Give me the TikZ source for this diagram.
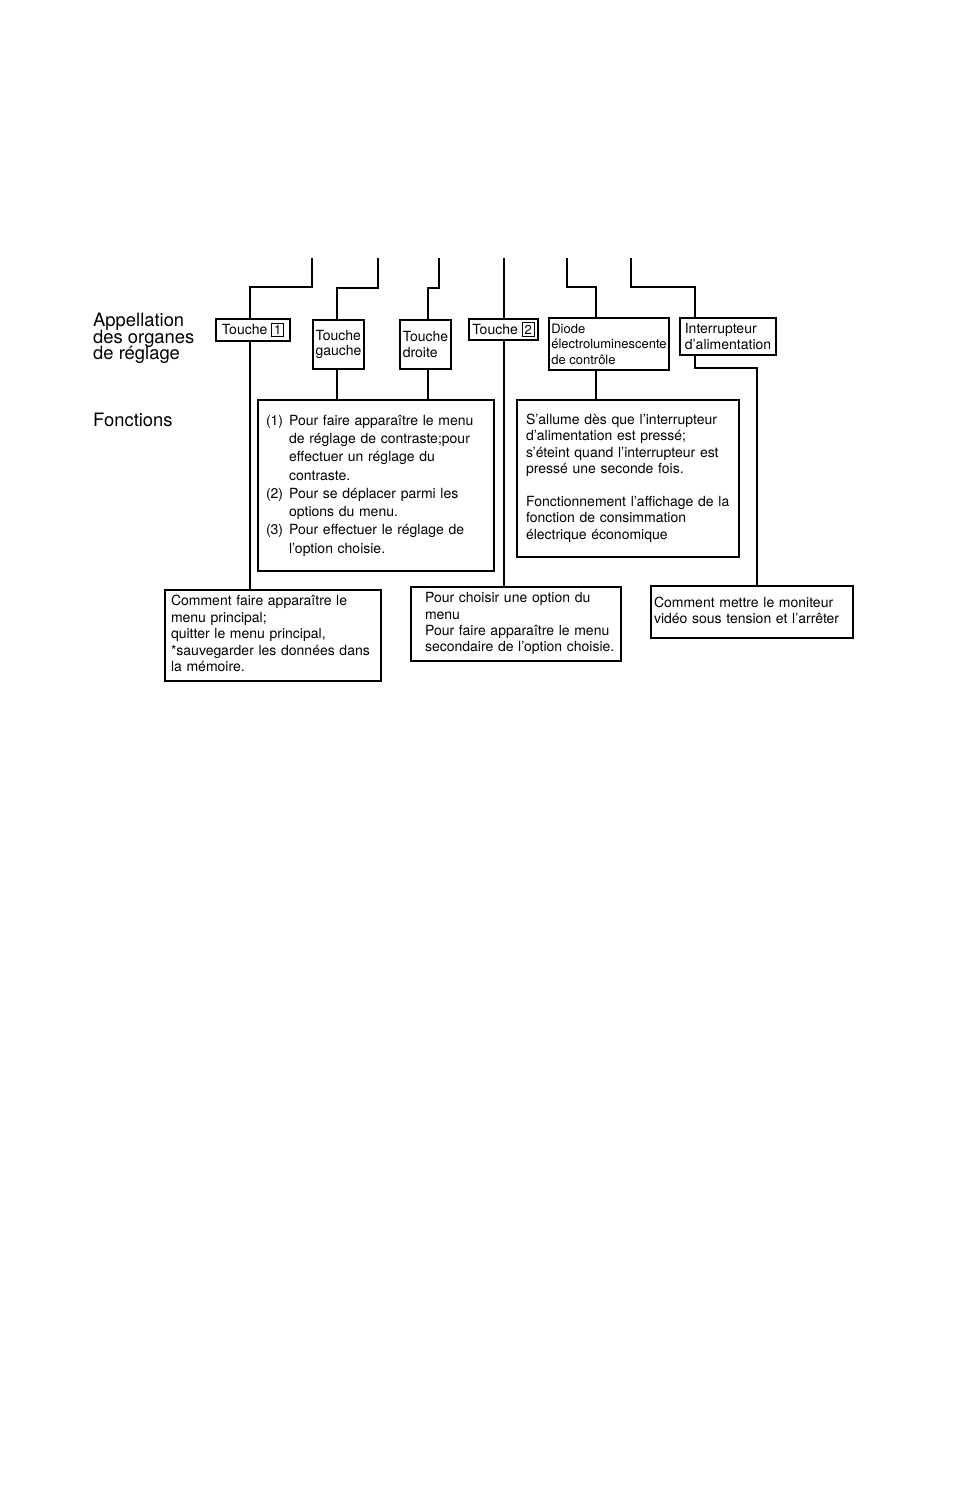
\documentclass[tikz,border=0pt]{standalone}
\usepackage{fontspec}
\setmainfont{TeX Gyre Heros}
\newcommand\dgboxfont{\fontsize{14}{16.4}\selectfont}
\newcommand\digbox[1]{{\fboxsep=1.8pt\fboxrule=1pt\fbox{\fontsize{13}{13}\selectfont #1}}}
\begin{document}
\begin{tikzpicture}[x=1pt,y=-1pt,
  box/.style={draw, line width=1.1pt, outer sep=0pt, inner ysep=0pt, anchor=north west, font=\dgboxfont},
  conn/.style={line width=1.5pt},
  lbltext/.style={inner sep=0pt, font=\fontsize{18.4}{16.5}\selectfont}]
\useasboundingbox (0,0) rectangle (955,1493);

% side labels
\node[lbltext, anchor=north west, align=left] (lab1) at (93,313) {Appellation\\[-2pt]des organes\\[-2pt]de réglage};
\node[lbltext, anchor=base west] (lab2) at (93,426) {Fonctions};

% control name boxes
\node[box, minimum width=74pt, minimum height=22pt, inner xsep=0pt] (k1) at (216,319) {Touche \digbox{1}};
\node[box, minimum width=51pt, minimum height=49pt, inner xsep=0pt, align=left] (kg) at (313,320) {Touche\\[-1pt]gauche};
\node[box, minimum width=51pt, minimum height=49pt, inner xsep=0pt, align=left] (kd) at (400,320) {Touche\\[-1pt]droite};
\node[box, minimum width=69pt, minimum height=21pt, inner xsep=0pt] (k2) at (469,319) {Touche \digbox{2}};
\node[box, minimum width=120pt, minimum height=52pt, inner xsep=0pt, align=left, font=\fontsize{13}{16.4}\selectfont] (dd) at (549,318) {Diode\\[-1pt]électroluminescente\\[-1pt]de contrôle};
\node[box, minimum width=96pt, minimum height=37pt, inner xsep=0pt, align=left] (ir) at (680,318) {Interrupteur\\[-1pt]d'alimentation};

% function boxes
\node[box, minimum width=236pt, minimum height=171pt, text width=220pt, inner xsep=8pt, align=left, font=\fontsize{14}{18.3}\selectfont] (f1) at (258,400)
 {\begin{tabular}{@{}l@{\hspace{6pt}}l@{}}(1) & Pour faire apparaître le menu\\ & de réglage de contraste;pour\\ & effectuer un réglage du\\ & contraste.\\ (2) & Pour se déplacer parmi les\\ & options du menu.\\ (3) & Pour effectuer le réglage de\\ & l'option choisie.\end{tabular}};
\node[box, minimum width=222pt, minimum height=157pt, text width=204pt, inner xsep=9pt, align=left] (f2) at (517,400)
 {\begin{tabular}{@{}l@{}}S'allume dès que l'interrupteur\\ d'alimentation est pressé;\\ s'éteint quand l'interrupteur est\\ pressé une seconde fois.\\ \\ Fonctionnement l'affichage de la\\ fonction de consimmation\\ électrique économique\end{tabular}};

% bottom boxes
\node[box, minimum width=216pt, minimum height=91pt, text width=204pt, inner xsep=6pt, align=left] (b1) at (165,590)
 {\begin{tabular}{@{}l@{}}Comment faire apparaître le\\ menu principal;\\ quitter le menu principal,\\ \relax*sauvegarder les données dans\\ la mémoire.\end{tabular}};
\node[box, minimum width=210pt, minimum height=74pt, text width=182pt, inner xsep=14pt, align=left] (b2) at (411,587)
 {\begin{tabular}{@{}l@{}}Pour choisir une option du\\ menu\\ Pour faire apparaître le menu\\ secondaire de l'option choisie.\end{tabular}};
\node[box, minimum width=202pt, minimum height=52pt, text width=196pt, inner xsep=3pt, align=left] (b3) at (651,586)
 {\begin{tabular}{@{}l@{}}Comment mettre le moniteur\\ vidéo sous tension et l'arrêter\end{tabular}};

% connector attachment points
\coordinate (t1) at (312,258);
\coordinate (t2) at (378,258);
\coordinate (t3) at (439,258);
\coordinate (t4) at (504,258);
\coordinate (t5) at (567,258);
\coordinate (t6) at (631,258);
\coordinate (k1t) at ([xshift=34pt]k1.north west);
\coordinate (k1b) at ([xshift=34pt]k1.south west);
\coordinate (kgt) at ([xshift=24pt]kg.north west);
\coordinate (kgb) at ([xshift=24pt]kg.south west);
\coordinate (kdt) at ([xshift=28pt]kd.north west);
\coordinate (kdb) at ([xshift=28pt]kd.south west);
\coordinate (k2t) at ([xshift=35pt]k2.north west);
\coordinate (k2b) at ([xshift=35pt]k2.south west);
\coordinate (ddt) at ([xshift=47pt]dd.north west);
\coordinate (ddb) at ([xshift=47pt]dd.south west);
\coordinate (irt) at ([xshift=15pt]ir.north west);
\coordinate (irb) at ([xshift=15pt]ir.south west);
\coordinate (b3t) at ([xshift=106pt]b3.north west);

% connectors
\draw[conn] (t1) -- ++(0,29) -| (k1t);
\draw[conn] (k1b) -- (k1b |- b1.north);
\draw[conn] (t2) -- ++(0,30) -| (kgt);
\draw[conn] (kgb) -- (kgb |- f1.north);
\draw[conn] (t3) -- ++(0,30) -| (kdt);
\draw[conn] (kdb) -- (kdb |- f1.north);
\draw[conn] (t4) -- (k2t);
\draw[conn] (k2b) -- (k2b |- b2.north);
\draw[conn] (t5) -- ++(0,29) -| (ddt);
\draw[conn] (ddb) -- (ddb |- f2.north);
\draw[conn] (t6) -- ++(0,29) -| (irt);
\draw[conn] (irb) -- ++(0,13) -| (b3t);
\end{tikzpicture}
\end{document}
